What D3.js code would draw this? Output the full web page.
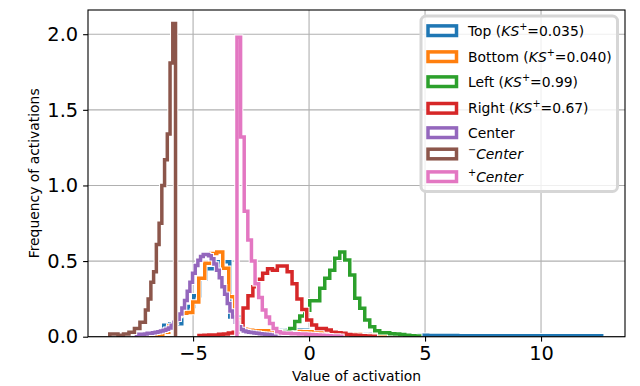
<!DOCTYPE html>
<html>
<head>
<meta charset="utf-8">
<script src="https://cdn.jsdelivr.net/npm/d3@7"></script>
<style>
  body { margin: 0; background: #fff; }
  svg { display: block; font-family: "DejaVu Sans", sans-serif; }
</style>
</head>
<body>
<div id="chart"></div>
<script>
// --- Data ---
// Each histogram: left edge of first bin, bin width, and bin heights (density).
const seriesColors = ["#1f77b4", "#ff7f0e", "#2ca02c", "#d62728", "#9467bd", "#8c564b", "#e377c2"];

const topStart = -7.039, topWidth = 0.2586;
const topDensity = [0.01, 0.015, 0.03, 0.075, 0.085, 0.085, 0.16, 0.2, 0.27, 0.38, 0.45, 0.45, 0.495, 0.495, 0.13, 0.13,
  0.05, 0.045, 0.045, 0.044, 0.044, 0.044, 0.044, 0.044, 0.044, 0.044, 0.042, 0.04, 0.035, 0.03, 0.026, 0.022, 0.02, 0.018, 0.017, 0.016,
  0.016, 0.016, 0.015, 0.016, 0.015, 0.015, 0.014, 0.013, 0.012,
  0.01, 0.009, 0.008, 0.008, 0.008, 0.008, 0.008, 0.007, 0.007, 0.007, 0.007, 0.007, 0.007, 0.007, 0.006, 0.006,
  0.006, 0.006, 0.006, 0.006, 0.006, 0.006, 0.006, 0.006, 0.006, 0.006, 0.006, 0.006, 0.006, 0.006, 0.006];

const bottomStart = -7.082, bottomWidth = 0.2586;
const bottomDensity = [0.006, 0.01, 0.015, 0.03, 0.07, 0.14, 0.155, 0.16, 0.23, 0.386, 0.485, 0.55, 0.56, 0.452, 0.264, 0.11,
  0.05, 0.042, 0.04, 0.04, 0.04, 0.038, 0.038, 0.036, 0.035, 0.034, 0.033, 0.032, 0.03, 0.028, 0.026, 0.024, 0.022,
  0.02, 0.018, 0.016, 0.012, 0.01, 0.008, 0.006, 0.005, 0.004, 0.003];

const leftStart = -1.263, leftWidth = 0.2155;
const leftDensity = [0.02, 0.035, 0.055, 0.1, 0.137, 0.175, 0.238, 0.238, 0.32, 0.386, 0.44, 0.518, 0.56, 0.507, 0.408, 0.254,
  0.188, 0.11, 0.066, 0.04, 0.026, 0.026, 0.02, 0.018, 0.015, 0.01, 0.006, 0.004];

const rightStart = -4.746, rightWidth = 0.2112;
const rightDensity = [0.008, 0.01, 0.011, 0.012, 0.016, 0.018, 0.024, 0.03, 0.045, 0.19, 0.27, 0.33, 0.38, 0.42, 0.45, 0.44,
  0.467, 0.467, 0.43, 0.35, 0.25, 0.18, 0.11, 0.077, 0.055, 0.055, 0.044, 0.03, 0.026, 0.022, 0.014, 0.012, 0.01,
  0.006, 0.004, 0.003];

const centerStart = -7.44, centerWidth = 0.1151;
const centerDensity = [0.016, 0.016, 0.016, 0.018, 0.022, 0.022, 0.026, 0.03, 0.033, 0.038, 0.042, 0.05, 0.058, 0.075,
  0.095, 0.116, 0.15, 0.19, 0.24, 0.3, 0.36, 0.42, 0.47, 0.505, 0.53, 0.544, 0.544, 0.535, 0.515, 0.48, 0.44, 0.39,
  0.33, 0.28, 0.22, 0.17, 0.13, 0.095, 0.066, 0.048, 0.038, 0.032, 0.03, 0.027, 0.025, 0.022, 0.02, 0.018, 0.016,
  0.014, 0.012, 0.011, 0.01, 0.009, 0.008, 0.007, 0.006];

const centerMinusStart = -8.591, centerMinusWidth = 0.1181;
const centerMinusDensity = [0.018, 0.018, 0.018, 0.01, 0.01, 0.018, 0.018, 0.03, 0.03, 0.055, 0.055, 0.095, 0.095,
  0.176, 0.25, 0.36, 0.43, 0.61, 0.75, 1.0, 1.17, 1.34, 1.81, 2.07];

const centerPlusStart = -3.108, centerPlusWidth = 0.156;
const centerPlusDensity = [1.98, 1.32, 0.83, 0.64, 0.5, 0.35, 0.26, 0.176, 0.13, 0.088, 0.055, 0.033, 0.025, 0.022,
  0.022, 0.02, 0.02, 0.018, 0.018, 0.016, 0.015, 0.013, 0.012, 0.01, 0.008, 0.006, 0.005, 0.004, 0.003];

// Legend labels (mathtext pieces)
const legendNames = ["Top", "Bottom", "Left", "Right", "Center", "Center", "Center"];
const legendKS = ["0.035", "0.040", "0.99", "0.67", null, null, null];
const legendSign = [null, null, null, null, null, "\u2212", "+"];

// Axis limits and ticks
const xLimits = [-9.53, 13.62];
const yLimits = [0, 2.16];
const xTicks = [-5, 0, 5, 10];
const yTicks = [0, 0.5, 1.0, 1.5, 2.0];

// --- Layout ---
const W = 640, H = 386;
const plot = { left: 88, right: 625, top: 10, bottom: 336.7 };
const legendRowY = [30.7, 56.7, 81.7, 108.3, 132.7, 154, 176.7];

const series = [
  [topStart, topWidth, topDensity],
  [bottomStart, bottomWidth, bottomDensity],
  [leftStart, leftWidth, leftDensity],
  [rightStart, rightWidth, rightDensity],
  [centerStart, centerWidth, centerDensity],
  [centerMinusStart, centerMinusWidth, centerMinusDensity],
  [centerPlusStart, centerPlusWidth, centerPlusDensity],
];

const svg = d3.select("#chart").append("svg").attr("width", W).attr("height", H);

const x = d3.scaleLinear().domain(xLimits).range([plot.left, plot.right]);
const y = d3.scaleLinear().domain(yLimits).range([plot.bottom, plot.top]);

svg.append("clipPath").attr("id", "plot-clip")
  .append("rect")
  .attr("x", plot.left).attr("y", plot.top)
  .attr("width", plot.right - plot.left).attr("height", plot.bottom - plot.top);

// Grid
const grid = svg.append("g").attr("stroke", "#b0b0b0").attr("stroke-width", 1.1);
grid.selectAll("line.gx").data(xTicks).join("line")
  .attr("x1", (d) => x(d)).attr("x2", (d) => x(d))
  .attr("y1", plot.top).attr("y2", plot.bottom);
grid.selectAll("line.gy").data(yTicks).join("line")
  .attr("x1", plot.left).attr("x2", plot.right)
  .attr("y1", (d) => y(d)).attr("y2", (d) => y(d));

// Step histograms
function stepPoints(start, width, dens) {
  const pts = [[start, 0]];
  dens.forEach((d, i) => {
    pts.push([start + i * width, d]);
    pts.push([start + (i + 1) * width, d]);
  });
  pts.push([start + dens.length * width, 0]);
  return pts;
}
const line = d3.line().x((p) => x(p[0])).y((p) => y(p[1]));

const histGroup = svg.append("g").attr("clip-path", "url(#plot-clip)");
series.forEach(([start, width, dens], i) => {
  const g = histGroup.append("g");
  const pts = stepPoints(start, width, dens);
  // white halo, then coloured outline
  g.append("path").attr("d", line(pts)).attr("fill", "none")
    .attr("stroke", "#fff").attr("stroke-width", 5.5).attr("stroke-linejoin", "miter");
  g.append("path").attr("d", line(pts)).attr("fill", "none")
    .attr("stroke", seriesColors[i]).attr("stroke-width", 3.5).attr("stroke-linejoin", "miter");
});

// Spines
svg.append("rect")
  .attr("x", plot.left).attr("y", plot.top)
  .attr("width", plot.right - plot.left).attr("height", plot.bottom - plot.top)
  .attr("fill", "none").attr("stroke", "#000").attr("stroke-width", 1.1);

// Axes
const xAxis = svg.append("g").attr("transform", `translate(0, ${plot.bottom})`)
  .call(d3.axisBottom(x).tickValues(xTicks).tickSize(4.9).tickPadding(4.9).tickSizeOuter(0));
const yAxis = svg.append("g").attr("transform", `translate(${plot.left}, 0)`)
  .call(d3.axisLeft(y).tickValues(yTicks).tickFormat(d3.format(".1f")).tickSize(4.9).tickPadding(4.9).tickSizeOuter(0));

[xAxis, yAxis].forEach((ax) => {
  ax.select(".domain").remove();
  ax.attr("font-family", null).attr("font-size", null);
  ax.selectAll(".tick line").attr("stroke", "#000").attr("stroke-width", 1.1);
  ax.selectAll(".tick text").attr("fill", "#000").style("font-size", "19.4px");
});

// Axis labels
svg.append("text")
  .attr("x", (plot.left + plot.right) / 2).attr("y", 381)
  .attr("text-anchor", "middle").style("font-size", "13.9px")
  .text("Value of activation");
svg.append("text")
  .attr("transform", `translate(39, ${(plot.top + plot.bottom) / 2}) rotate(-90)`)
  .attr("text-anchor", "middle").style("font-size", "13.9px")
  .text("Frequency of activations");

// Legend
const legend = svg.append("g");
legend.append("rect")
  .attr("x", 421).attr("y", 16).attr("width", 196.5).attr("height", 175.5)
  .attr("rx", 5).attr("fill", "#fff").attr("fill-opacity", 0.8)
  .attr("stroke", "#d6d6d6").attr("stroke-width", 3);

legendRowY.forEach((cy, i) => {
  legend.append("rect")
    .attr("x", 428).attr("y", cy - 4.8).attr("width", 28.5).attr("height", 9.6)
    .attr("fill", "#fff").attr("stroke", seriesColors[i]).attr("stroke-width", 3.5);

  const t = legend.append("text").attr("x", 468).attr("y", cy + 5).style("font-size", "13.9px");
  if (legendSign[i]) {
    t.append("tspan").attr("dy", -6).style("font-size", "9.7px").text(legendSign[i]);
    t.append("tspan").attr("dy", 6).style("font-style", "italic").text(legendNames[i]);
  } else {
    t.append("tspan").text(legendNames[i]);
    if (legendKS[i]) {
      t.append("tspan").text(" (");
      t.append("tspan").style("font-style", "italic").text("KS");
      t.append("tspan").attr("dy", -6).style("font-size", "9.7px").text("+");
      t.append("tspan").attr("dy", 6).text(`=${legendKS[i]})`);
    }
  }
});
</script>
</body>
</html>
